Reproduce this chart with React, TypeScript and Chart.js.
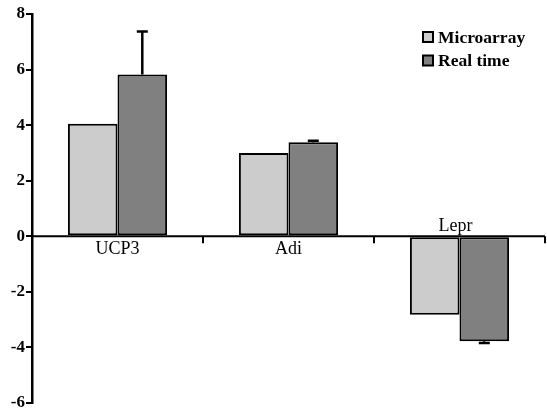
import React, { useEffect, useRef } from "react";
import { Chart, registerables } from "chart.js";

Chart.register(...registerables);

const categories = ["UCP3", "Adi", "Lepr"];
const microarray = [4.05, 3.0, -2.82];
const realTime = [5.82, 3.38, -3.78];
const realTimeErr = [1.55, 0.06, 0.06];
const yTicks = [-6, -4, -2, 0, 2, 4, 6, 8];
const seriesNames = ["Microarray", "Real time"];

const SERIF = "'Liberation Serif', 'DejaVu Serif', serif";

const overlayPlugin = {
  id: "overlay",
  afterDatasetsDraw(chart: any) {
    const ctx = chart.ctx;
    const x = chart.scales.x;
    const y = chart.scales.y;
    const area = chart.chartArea;
    const y0 = y.getPixelForValue(0);
    ctx.save();
    // zero line
    ctx.strokeStyle = "#000";
    ctx.lineWidth = 2;
    ctx.beginPath();
    ctx.moveTo(area.left, y0);
    ctx.lineTo(area.right, y0);
    ctx.stroke();
    // category boundary ticks
    const n = categories.length;
    for (let i = 1; i <= n; i++) {
      const bx = area.left + ((area.right - area.left) * i) / n;
      ctx.beginPath();
      ctx.moveTo(bx, y0);
      ctx.lineTo(bx, y0 + 7);
      ctx.stroke();
    }
    // error bars on Real time
    const meta = chart.getDatasetMeta(1);
    ctx.lineWidth = 2.5;
    meta.data.forEach((bar: any, i: number) => {
      const v = realTime[i];
      const e = realTimeErr[i];
      const end = v >= 0 ? v + e : v - e;
      const py1 = y.getPixelForValue(v);
      const py2 = y.getPixelForValue(end);
      ctx.beginPath();
      ctx.moveTo(bar.x, py1);
      ctx.lineTo(bar.x, py2);
      ctx.moveTo(bar.x - 5.5, py2);
      ctx.lineTo(bar.x + 5.5, py2);
      ctx.stroke();
    });
    // category labels
    ctx.fillStyle = "#000";
    ctx.font = `18px ${SERIF}`;
    ctx.textAlign = "center";
    categories.forEach((c, i) => {
      const cx = x.getPixelForValue(i);
      const neg = microarray[i] < 0;
      if (neg) {
        ctx.textBaseline = "bottom";
        ctx.fillText(c, cx - 4, y0 - 1);
      } else {
        ctx.textBaseline = "top";
        ctx.fillText(c, cx, y0 + 4);
      }
    });
    // legend
    const colors = ["#cccccc", "#808080"];
    ctx.font = `bold 17.5px ${SERIF}`;
    ctx.textAlign = "left";
    ctx.textBaseline = "middle";
    seriesNames.forEach((s, i) => {
      const ly = 37 + i * 23.5;
      ctx.fillStyle = colors[i];
      ctx.fillRect(423, ly - 5, 10, 10);
      ctx.strokeStyle = "#000";
      ctx.lineWidth = 2;
      ctx.strokeRect(423, ly - 5, 10, 10);
      ctx.fillStyle = "#000";
      ctx.fillText(s, 438, ly + 1);
    });
    ctx.restore();
  },
};

export default function App() {
  const ref = useRef<HTMLCanvasElement | null>(null);
  useEffect(() => {
    if (!ref.current) return;
    const chart = new Chart(ref.current, {
      type: "bar",
      data: {
        labels: categories,
        datasets: [
          {
            label: seriesNames[0],
            data: microarray,
            backgroundColor: "#cccccc",
            borderColor: "#000",
            borderWidth: 2,
            borderSkipped: false,
            categoryPercentage: 0.58,
            barPercentage: 1.0,
          },
          {
            label: seriesNames[1],
            data: realTime,
            backgroundColor: "#808080",
            borderColor: "#000",
            borderWidth: 2,
            borderSkipped: false,
            categoryPercentage: 0.58,
            barPercentage: 1.0,
          },
        ],
      },
      options: {
        animation: false,
        responsive: false,
        layout: { padding: { top: 14, bottom: 8, right: 2, left: 0 } },
        plugins: { legend: { display: false }, tooltip: { enabled: false } },
        scales: {
          x: { display: false },
          y: {
            min: -6,
            max: 8,
            afterBuildTicks(scale: any) {
              scale.ticks = yTicks.map((v) => ({ value: v }));
            },
            afterFit(scale: any) {
              scale.width = 32;
            },
            border: { display: true, color: "#000", width: 2.5 },
            grid: {
              drawOnChartArea: false,
              drawTicks: true,
              tickLength: 6,
              tickColor: "#000",
              lineWidth: 2,
            },
            ticks: {
              color: "#000",
              padding: 1,
              font: { family: SERIF, size: 17, weight: "bold", lineHeight: 0.7 },
            },
          },
        },
      },
      plugins: [overlayPlugin],
    } as any);
    return () => chart.destroy();
  }, []);
  return (
    <div style={{ position: "fixed", left: 0, top: 0, width: 547, height: 411, background: "#fff" }}>
      <canvas ref={ref} width={547} height={411} style={{ width: 547, height: 411 }} />
    </div>
  );
}
